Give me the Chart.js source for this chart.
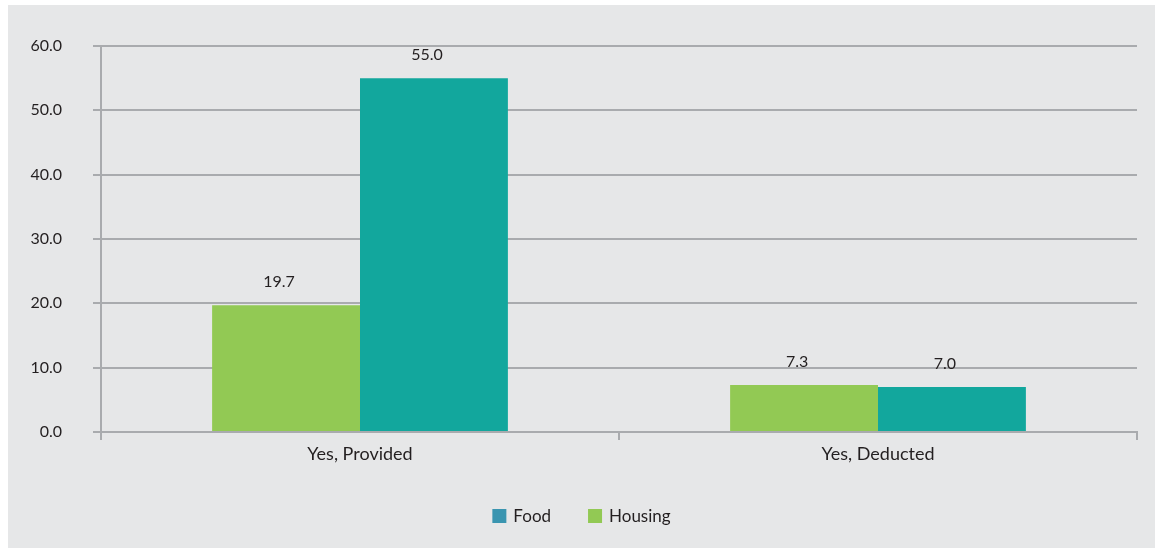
<!DOCTYPE html>
<html>
<head>
<meta charset="utf-8">
<script src="https://cdn.jsdelivr.net/npm/chart.js@4/dist/chart.umd.min.js"></script>
<style>
  html, body { margin: 0; padding: 0; background: #ffffff; }
  #panel {
    position: absolute; left: 8px; top: 5px;
    width: 1147px; height: 543px;
    background: #e6e7e8;
  }
</style>
</head>
<body>
<div id="panel"><canvas id="barChart" width="1147" height="543"></canvas></div>
<script>
const categories = ['Yes, Provided', 'Yes, Deducted'];
const housing = [19.7, 7.3];
const food = [55.0, 7.0];
const yTicks = [0, 10, 20, 30, 40, 50, 60];

let colors = {
  GREEN: '#92c954',
  TEAL: '#12a79d',
  FOOD_KEY: '#3a95b0',
  GRID: '#a9abae',
  TEXT: '#231f20'
};
const FONT = 'Lato';

// value printed above each bar (sits a little left of the bar centre)
const valueLabels = {
  id: 'valueLabels',
  afterDatasetsDraw(chart) {
    const ctx = chart.ctx;
    ctx.save();
    ctx.font = '16px ' + FONT;
    ctx.fillStyle = colors.TEXT;
    ctx.textAlign = 'center';
    ctx.textBaseline = 'middle';
    chart.data.datasets.forEach((ds, i) => {
      chart.getDatasetMeta(i).data.forEach((bar, j) => {
        ctx.fillText(ds.data[j].toFixed(1), bar.x - 7, bar.y - 23);
      });
    });
    ctx.restore();
  }
};

// legend row under the axis: Food first, then Housing
const keyRow = {
  id: 'keyRow',
  afterDraw(chart) {
    const ctx = chart.ctx;
    const items = [
      { text: 'Food', color: colors.FOOD_KEY },
      { text: 'Housing', color: colors.GREEN }
    ];
    const box = 14, gap = 7, spacing = 37;
    ctx.save();
    ctx.font = '17px ' + FONT;
    ctx.textBaseline = 'middle';
    let total = 0;
    items.forEach((it, k) => {
      it.w = box + gap + ctx.measureText(it.text).width;
      total += it.w + (k ? spacing : 0);
    });
    let x = chart.width / 2 - total / 2;
    const y = chart.height - 32;
    items.forEach(it => {
      ctx.fillStyle = it.color;
      ctx.fillRect(x, y - box / 2, box, box);
      ctx.fillStyle = colors.TEXT;
      ctx.fillText(it.text, x + box + gap, y + 1);
      x += it.w + spacing;
    });
    ctx.restore();
  }
};

const ctx = document.getElementById('barChart');

new Chart(ctx, {
  type: 'bar',
  data: {
    labels: categories,
    datasets: [
      {
        label: 'Housing',
        data: housing,
        backgroundColor: colors.GREEN,
        barPercentage: 1,
        categoryPercentage: 0.571
      },
      {
        label: 'Food',
        data: food,
        backgroundColor: colors.TEAL,
        barPercentage: 1,
        categoryPercentage: 0.571
      }
    ]
  },
  options: {
    responsive: false,
    animation: false,
    layout: { padding: { top: 41, right: 18, bottom: 0, left: 0 } },
    plugins: {
      legend: { display: false },
      tooltip: { enabled: false }
    },
    scales: {
      x: {
        afterFit: s => { s.height = 116; },
        grid: {
          drawOnChartArea: false,
          drawTicks: true,
          tickLength: 8,
          color: colors.GRID,
          lineWidth: 2
        },
        border: { display: true, color: colors.GRID, width: 2 },
        ticks: {
          color: colors.TEXT,
          font: { family: FONT, size: 18 },
          padding: 3
        }
      },
      y: {
        min: 0,
        max: 60,
        afterFit: s => { s.width = 93; },
        afterBuildTicks: s => { s.ticks = yTicks.map(v => ({ value: v })); },
        grid: {
          color: colors.GRID,
          lineWidth: 2,
          tickLength: 8
        },
        border: { display: true, color: colors.GRID, width: 2 },
        ticks: {
          color: colors.TEXT,
          font: { family: FONT, size: 16 },
          padding: 31,
          callback: v => v.toFixed(1)
        }
      }
    }
  },
  plugins: [valueLabels, keyRow]
});
</script>
</body>
</html>
